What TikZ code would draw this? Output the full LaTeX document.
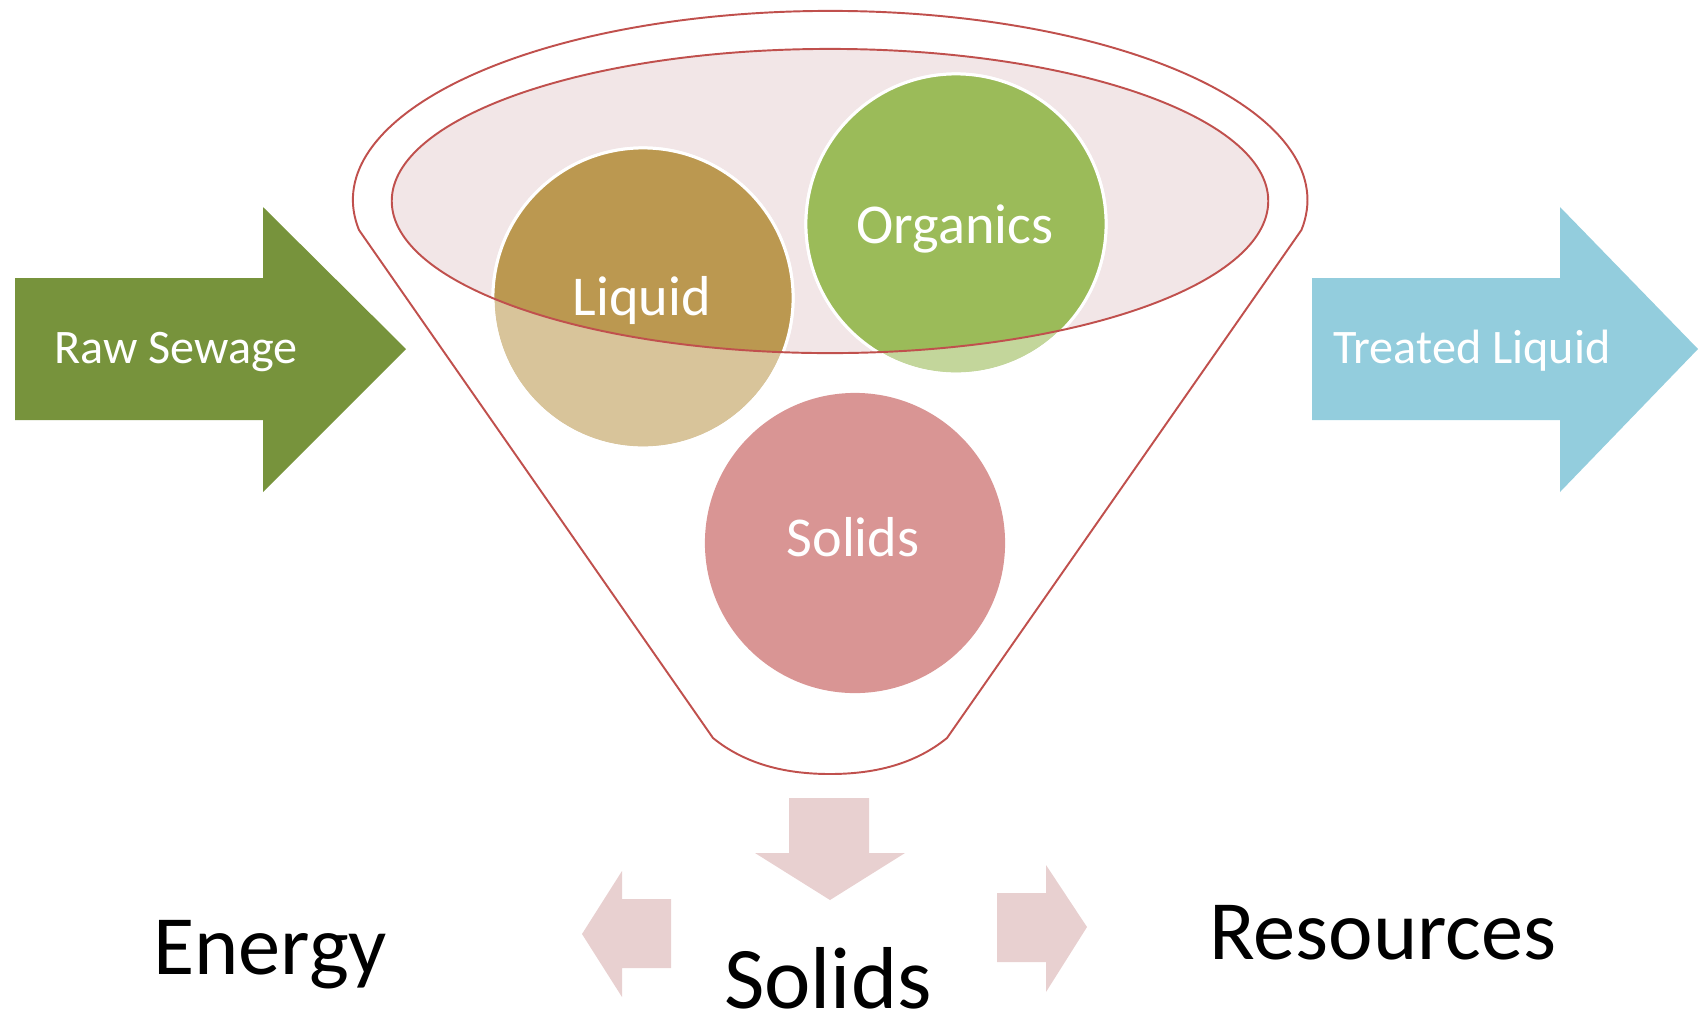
\documentclass[tikz,border=0pt]{standalone}
\usepackage{fontspec}
\setmainfont{Carlito}
\usetikzlibrary{shapes.geometric}
\definecolor{sewage}{HTML}{77933C}
\definecolor{treated}{HTML}{93CDDD}
\definecolor{liqdark}{HTML}{BB9850}
\definecolor{liqlight}{HTML}{D8C49A}
\definecolor{orgdark}{HTML}{9BBB59}
\definecolor{orglight}{HTML}{C3D69B}
\definecolor{solfill}{HTML}{D99594}
\definecolor{funnelred}{HTML}{C0504D}
\definecolor{funnelfill}{HTML}{F2E6E7}
\definecolor{smallarrow}{HTML}{E8D0D0}
\begin{document}
\begin{tikzpicture}[x=0.01cm,y=-0.01cm,
  ball/.style={circle, minimum size=3cm, inner sep=0pt, draw=white, line width=0.85pt},
  balltext/.style={text=white, font=\fontsize{16}{19}\selectfont, anchor=base, inner sep=0pt},
  arrowtext/.style={text=white, font=\fontsize{13.7}{16}\selectfont, anchor=base, inner sep=0pt},
  bigtext/.style={text=black, font=\fontsize{24}{29}\selectfont, anchor=base, inner sep=0pt},
  funnelline/.style={draw=funnelred, line width=0.55pt}]
\useasboundingbox (0,0) rectangle (1702,1014);

% big side arrows
\fill[sewage] (15,278) -- (263,278) -- (263,207) -- (406,349) -- (263,492) -- (263,420) -- (15,420) -- cycle;
\fill[treated] (1312,278) -- (1560,278) -- (1560,207) -- (1698,349) -- (1560,492) -- (1560,420) -- (1312,420) -- cycle;

% funnel outline
\draw[funnelline] (359,230) arc[start angle=189.13, end angle=-9.13, x radius=4.77cm, y radius=1.89cm]
  -- (947,738) .. controls (915,764) and (875,774) .. (830,774)
  .. controls (785,774) and (745,764) .. (713,738) -- cycle;

% inner bowl
\node[ellipse, minimum width=8.76cm, minimum height=3.04cm, fill=funnelfill, inner sep=0pt] (bowl) at (830,201) {};

% circles
\node[ball, fill=liqlight] (liquid) at (643,298) {};
\node[ball, fill=orglight] (organics) at (956,224) {};
\begin{scope}
  \clip (830,201) ellipse [x radius=4.38cm, y radius=1.52cm];
  \fill[liqdark] (liquid.center) circle [radius=1.5cm];
  \fill[orgdark] (organics.center) circle [radius=1.5cm];
\end{scope}
\draw[white, line width=0.85pt] (liquid.center) circle [radius=1.5cm];
\draw[white, line width=0.85pt] (organics.center) circle [radius=1.5cm];
\draw[funnelline] (bowl.center) ellipse [x radius=4.38cm, y radius=1.52cm];
\node[ball, fill=solfill, draw=none] (solids) at (855,543) {};

% small arrows
\fill[smallarrow] (789,798) -- (869,798) -- (869,853) -- (905,853) -- (830,900) -- (755,853) -- (789,853) -- cycle;
\fill[smallarrow] (671,899) -- (671,968) -- (622,968) -- (622,997) -- (582,934) -- (622,871) -- (622,899) -- cycle;
\fill[smallarrow] (997,893) -- (1046,893) -- (1046,865) -- (1087,927) -- (1046,992) -- (1046,962) -- (997,962) -- cycle;

% texts
\node[arrowtext] (rawtxt) at (176,363) {Raw Sewage};
\node[arrowtext] (treatedtxt) at (1472,363) {Treated Liquid};
\node[balltext] (liqtxt) at (642,315) {Liquid};
\node[balltext] (orgtxt) at (955,243) {Organics};
\node[balltext] (soltxt) at (853,556) {Solids};
\node[bigtext] (energy) at (270,974) {Energy};
\node[bigtext, font=\fontsize{25}{30}\selectfont] (solidsout) at (828,1008) {Solids};
\node[bigtext] (resources) at (1383,959) {Resources};
\end{tikzpicture}
\end{document}
